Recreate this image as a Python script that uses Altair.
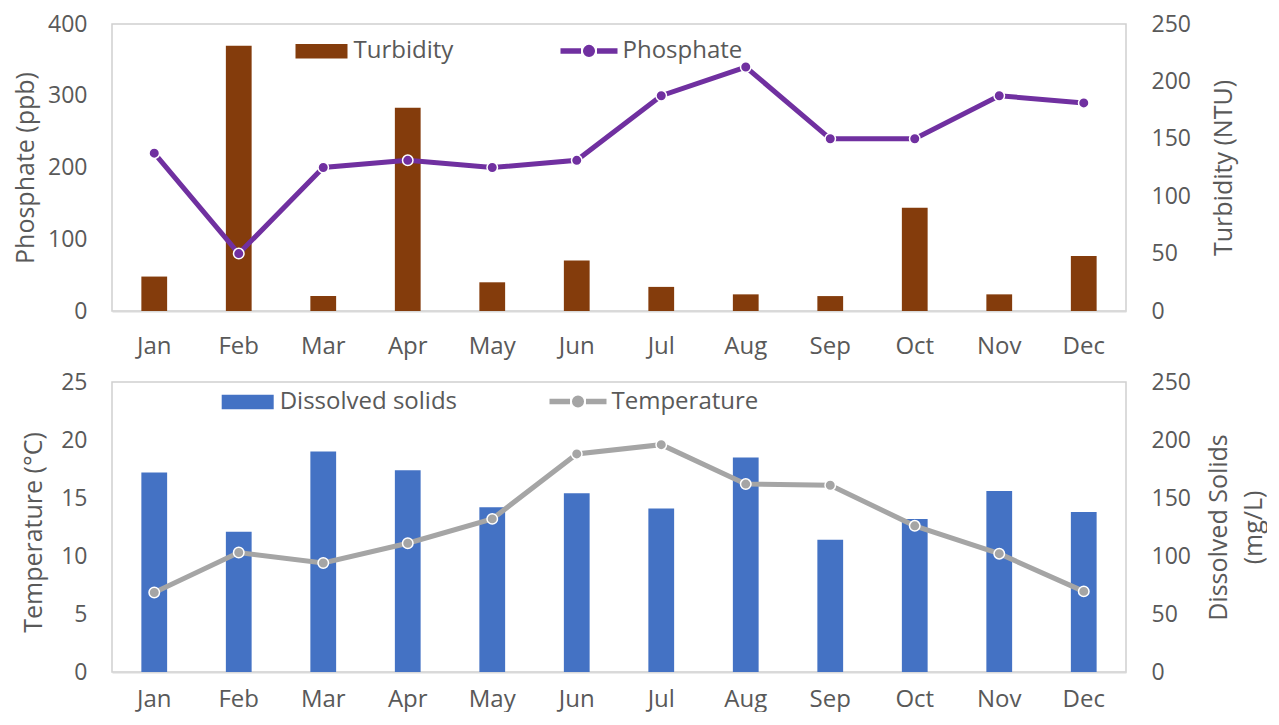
import altair as alt
import pandas as pd

months = ["Jan", "Feb", "Mar", "Apr", "May", "Jun", "Jul", "Aug", "Sep", "Oct", "Nov", "Dec"]
phosphate = [220, 80, 200, 210, 200, 210, 300, 340, 240, 240, 300, 290]
turbidity = [30, 231, 13, 177, 25, 44, 21, 14.5, 13, 90, 14.5, 48]
temperature = [6.85, 10.3, 9.4, 11.1, 13.2, 18.8, 19.6, 16.2, 16.1, 12.6, 10.2, 6.95]
dissolved = [172, 121, 190, 174, 142, 154, 141, 185, 114, 132, 156, 138]

BROWN = "#843C0C"
PURPLE = "#7030A0"
BLUE = "#4472C4"
GREY = "#A5A5A5"
TXT = "#595959"
FONT = "Open Sans"

top_df = pd.DataFrame({"Month": months, "Phosphate": phosphate, "Turbidity": turbidity,
                       "s1": "Turbidity", "s2": "Phosphate"})
bot_df = pd.DataFrame({"Month": months, "Temperature": temperature, "Dissolved": dissolved,
                       "s1": "Dissolved solids", "s2": "Temperature"})

W = 1014
H_TOP = 287
H_BOT = 290

LINE_SYM = ("M-1,0H-0.28M0.28,0H1"
            "M0,-0.115A0.115,0.115 0 1,1 0,0.115A0.115,0.115 0 1,1 0,-0.115Z")
BAR_SYM = "M-1,-0.28H1V0.28H-1Z"


def xenc(pad):
    return alt.X("Month:N", sort=months, title=None,
                 scale=alt.Scale(paddingInner=0.695, paddingOuter=0.3475),
                 axis=alt.Axis(labelAngle=0, ticks=False, domain=True, domainColor="#D9D9D9",
                               domainWidth=2, labelPadding=pad, labelFontSize=24,
                               labelColor=TXT, grid=False))


def yaxis(orient, values, title, tx, ty, lh=32):
    return alt.Axis(orient=orient, values=values, title=title, titleAngle=270, grid=False,
                    ticks=False, domain=False, labelPadding=25, labelFontSize=23,
                    labelColor=TXT, titleFontSize=25, titleColor=TXT,
                    titleFontWeight="normal", titleX=tx, titleY=ty, titleAlign="center",
                    titleBaseline="middle", titleLineHeight=lh)


def legend(x, y, size, stype, offset, fillc=None):
    kw = dict(orient="none", legendX=x, legendY=y, direction="horizontal", title=None,
              labelFontSize=24, labelColor=TXT, symbolType=stype, symbolSize=size,
              padding=0, labelOffset=offset, labelFont=FONT, labelLimit=0)
    if fillc:
        kw["symbolFillColor"] = fillc
        kw["symbolStrokeWidth"] = 5.5
    return alt.Legend(**kw)


# ---------- top chart ----------
top_bars = alt.Chart(top_df).mark_bar().encode(
    x=xenc(23),
    y=alt.Y("Turbidity:Q", scale=alt.Scale(domain=[0, 250], nice=False),
            axis=yaxis("right", [0, 50, 100, 150, 200, 250], "Turbidity (NTU)",
                       97, H_TOP / 2)),
    fill=alt.Fill("s1:N", scale=alt.Scale(domain=["Turbidity"], range=[BROWN]),
                  legend=legend(182.5, 0.2, 2704, BAR_SYM, 5)),
)
top_line = alt.Chart(top_df).mark_line(strokeWidth=5).encode(
    x=xenc(23),
    y=alt.Y("Phosphate:Q", scale=alt.Scale(domain=[0, 400], nice=False),
            axis=yaxis("left", [0, 100, 200, 300, 400], "Phosphate (ppb)", -87, H_TOP / 2)),
    stroke=alt.Stroke("s2:N", scale=alt.Scale(domain=["Phosphate"], range=[PURPLE]),
                      legend=legend(445.5, -4.6, 3249, LINE_SYM, 2, PURPLE)),
)
top_pts = alt.Chart(top_df).mark_point(filled=True, size=110, fill=PURPLE, stroke="white",
                                       strokeWidth=1.5, opacity=1).encode(
    x=xenc(23),
    y=alt.Y("Phosphate:Q", scale=alt.Scale(domain=[0, 400], nice=False), axis=None),
)
top = alt.layer(top_bars, top_line, top_pts).resolve_scale(y="independent").properties(
    width=W, height=H_TOP)

# ---------- bottom chart ----------
bot_bars = alt.Chart(bot_df).mark_bar().encode(
    x=xenc(15),
    y=alt.Y("Dissolved:Q", scale=alt.Scale(domain=[0, 250], nice=False),
            axis=yaxis("right", [0, 50, 100, 150, 200, 250], ["Dissolved Solids", "(mg/L)"],
                       92, H_BOT / 2, 35)),
    fill=alt.Fill("s1:N", scale=alt.Scale(domain=["Dissolved solids"], range=[BLUE]),
                  legend=legend(108.7, -7, 2704, BAR_SYM, 5)),
)
bot_line = alt.Chart(bot_df).mark_line(strokeWidth=5).encode(
    x=xenc(15),
    y=alt.Y("Temperature:Q", scale=alt.Scale(domain=[0, 25], nice=False),
            axis=yaxis("left", [0, 5, 10, 15, 20, 25], "Temperature (°C)", -79, H_BOT / 2 + 5)),
    stroke=alt.Stroke("s2:N", scale=alt.Scale(domain=["Temperature"], range=[GREY]),
                      legend=legend(434.5, -12, 3249, LINE_SYM, 2, GREY)),
)
bot_pts = alt.Chart(bot_df).mark_point(filled=True, size=110, fill=GREY, stroke="white",
                                       strokeWidth=1.5, opacity=1).encode(
    x=xenc(15),
    y=alt.Y("Temperature:Q", scale=alt.Scale(domain=[0, 25], nice=False), axis=None),
)
bot = alt.layer(bot_bars, bot_line, bot_pts).resolve_scale(y="independent").properties(
    width=W, height=H_BOT)

chart = alt.vconcat(top, bot, spacing=10).resolve_scale(
    x="independent", y="independent", fill="independent", stroke="independent"
).properties(
    padding={"left": 4, "top": 4, "right": 0, "bottom": 0}
).configure(font=FONT).configure_view(stroke="#D0D0D0", strokeWidth=1.5).configure_axis(
    labelFont=FONT, titleFont=FONT
).configure_legend(labelFont=FONT)

chart.save("out.html", embed_options={"renderer": "svg", "actions": False})
